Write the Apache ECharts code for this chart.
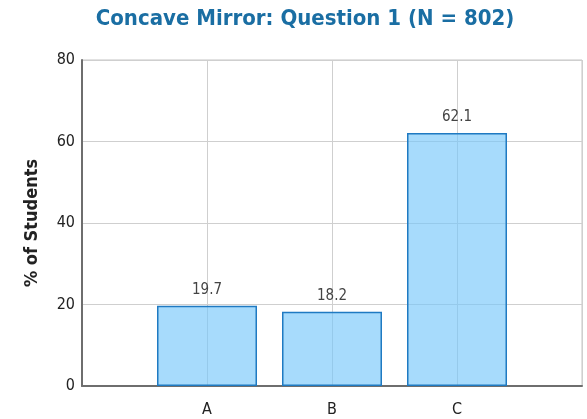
<!DOCTYPE html>
<html><head><meta charset="utf-8">
<script src="https://cdn.jsdelivr.net/npm/echarts@6/dist/echarts.min.js"></script>
<style>html,body{margin:0;padding:0;background:#fff}#c{width:587px;height:419px}</style>
</head><body><div id="c"></div>
<script>
const categories = ['', 'A', 'B', 'C', ''];
const values = [null, 19.7, 18.2, 62.1, null];
const yTicks = [0, 20, 40, 60, 80];
const titleText = 'Concave Mirror: Question 1 (N = 802)';
const yName = '% of Students';

const FONT = '"DejaVu Sans Condensed", "DejaVu Sans", sans-serif';
const chart = echarts.init(document.getElementById('c'), null, {renderer: 'canvas'});
chart.setOption({
  animation: false,
  title: {
    text: titleText, left: 300, top: 3, textAlign: 'center',
    textStyle: {fontFamily: FONT, fontWeight: 'bold', fontSize: 22, color: '#1a6ea3'}
  },
  grid: {left: 82, right: 5, top: 60, bottom: 33, show: true, borderColor: '#c4c4c4', borderWidth: 1},
  xAxis: {
    type: 'category', data: categories, boundaryGap: false,
    axisLine: {lineStyle: {color: '#6e6e6e', width: 2}},
    axisTick: {show: false},
    axisLabel: {margin: 16, color: '#222', fontFamily: FONT, fontSize: 16, interval: 0},
    splitLine: {show: true, lineStyle: {color: '#cfcfcf', width: 1}}
  },
  yAxis: {
    type: 'value', min: yTicks[0], max: yTicks[yTicks.length - 1], interval: 20,
    name: yName, nameLocation: 'middle', nameGap: 41,
    nameTextStyle: {fontFamily: FONT, fontWeight: 'bold', fontSize: 18, color: '#222'},
    axisLine: {show: true, lineStyle: {color: '#6e6e6e', width: 2}},
    axisTick: {show: false},
    axisLabel: {margin: 7, color: '#222', fontFamily: FONT, fontSize: 16},
    splitLine: {show: true, lineStyle: {color: '#cfcfcf', width: 1}}
  },
  series: [{
    type: 'bar', data: values, barWidth: '80%',
    itemStyle: {color: 'rgba(120,200,250,0.65)', borderColor: '#1f7ac2', borderWidth: 1.5},
    label: {show: true, position: 'top', distance: 8, color: '#444', fontFamily: FONT, fontSize: 15,
      formatter: p => p.value.toFixed(1)}
  }]
});
</script></body></html>
